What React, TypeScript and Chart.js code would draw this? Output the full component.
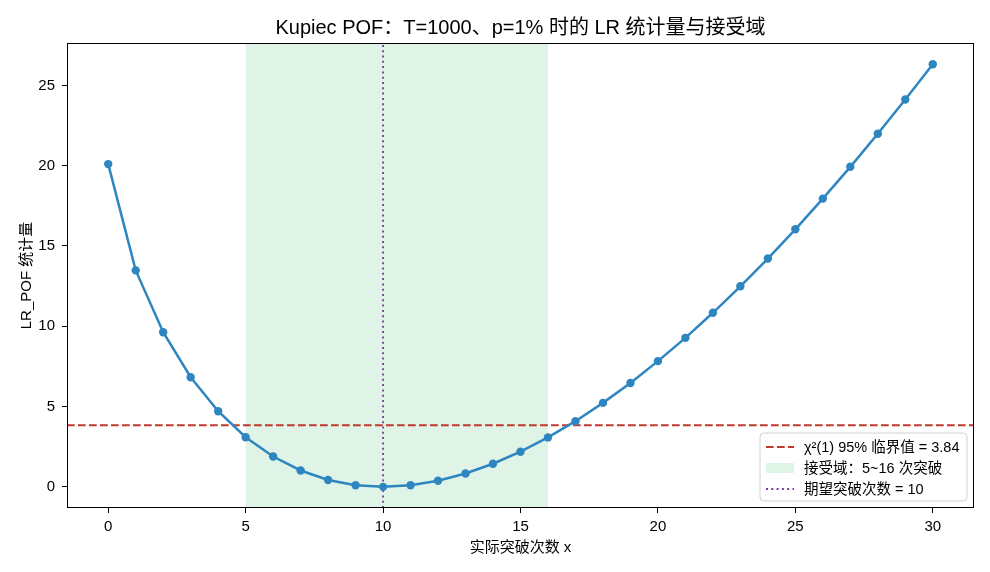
import React, { useEffect, useRef } from "react";
import { Chart, registerables } from "chart.js";

Chart.register(...registerables);

const breachCounts = [0, 1, 2, 3, 4, 5, 6, 7, 8, 9, 10, 11, 12, 13, 14, 15, 16, 17, 18, 19, 20, 21, 22, 23, 24, 25, 26, 27, 28, 29, 30];
const lrValues = [20.10, 13.48, 9.63, 6.83, 4.71, 3.09, 1.89, 1.02, 0.43, 0.10, 0.00, 0.10, 0.38, 0.83, 1.44, 2.19, 3.08, 4.09, 5.23, 6.47, 7.83, 9.28, 10.84, 12.49, 14.22, 16.04, 17.95, 19.93, 21.99, 24.12, 26.32];
const criticalValue = 3.84;
const acceptRange = [5, 16];
const expectedBreaches = 10;
const xTicks = [0, 5, 10, 15, 20, 25, 30];
const yTicks = [0, 5, 10, 15, 20, 25];
const xRange = [-1.5, 31.5];
const yRange = [-1.316, 27.64];

const titleText = "Kupiec POF：T=1000、p=1% 时的 LR 统计量与接受域";
const xLabel = "实际突破次数 x";
const yLabel = "LR_POF 统计量";
const legendLabels = ["χ²(1) 95% 临界值 = 3.84", "接受域：5~16 次突破", "期望突破次数 = 10"];

const FONT = '"Liberation Sans", "Noto Sans CJK SC", sans-serif';
const LINE_COLOR = "#2e86c1";
const RED = "#c0392b";
const PURPLE = "#7d3c98";
const FILL = "rgba(39,174,96,0.15)";

const decorPlugin = {
  id: "decor",
  beforeDatasetsDraw(chart: any) {
    const { ctx, chartArea, scales } = chart;
    const x0 = scales.x.getPixelForValue(acceptRange[0]);
    const x1 = scales.x.getPixelForValue(acceptRange[1]);
    ctx.save();
    ctx.fillStyle = FILL;
    ctx.fillRect(x0, chartArea.top, x1 - x0, chartArea.bottom - chartArea.top);
    ctx.restore();
  },
  afterDraw(chart: any) {
    const { ctx, chartArea } = chart;
    const cx = (chartArea.left + chartArea.right) / 2;
    const cy = (chartArea.top + chartArea.bottom) / 2;
    ctx.save();
    ctx.strokeStyle = "#000";
    ctx.lineWidth = 1;
    ctx.strokeRect(chartArea.left + 0.5, chartArea.top + 0.5, chartArea.right - chartArea.left - 1, chartArea.bottom - chartArea.top - 1);
    ctx.fillStyle = "#000";
    ctx.textAlign = "center";
    ctx.textBaseline = "middle";
    ctx.font = `20px ${FONT}`;
    ctx.fillText(titleText, cx, 28);
    ctx.font = `15px ${FONT}`;
    ctx.fillText(xLabel, cx, 548);
    ctx.save();
    ctx.translate(27, cy);
    ctx.rotate(-Math.PI / 2);
    ctx.fillText(yLabel, 0, 0);
    ctx.restore();
    const lx = 760, ly = 433, lw = 207, lh = 68, r = 4;
    ctx.beginPath();
    ctx.moveTo(lx + r, ly);
    ctx.arcTo(lx + lw, ly, lx + lw, ly + lh, r);
    ctx.arcTo(lx + lw, ly + lh, lx, ly + lh, r);
    ctx.arcTo(lx, ly + lh, lx, ly, r);
    ctx.arcTo(lx, ly, lx + lw, ly, r);
    ctx.closePath();
    ctx.fillStyle = "rgba(255,255,255,0.8)";
    ctx.fill();
    ctx.strokeStyle = "#d0d0d0";
    ctx.lineWidth = 1;
    ctx.stroke();
    const rows = [447, 468, 489];
    const hx0 = 766, hx1 = 794;
    ctx.strokeStyle = RED;
    ctx.lineWidth = 2;
    ctx.setLineDash([7.7, 3.3]);
    ctx.beginPath();
    ctx.moveTo(hx0, rows[0]);
    ctx.lineTo(hx1, rows[0]);
    ctx.stroke();
    ctx.setLineDash([]);
    ctx.fillStyle = FILL;
    ctx.fillRect(hx0, rows[1] - 5, hx1 - hx0, 10);
    ctx.strokeStyle = PURPLE;
    ctx.lineWidth = 1.8;
    ctx.setLineDash([2, 3.3]);
    ctx.beginPath();
    ctx.moveTo(hx0, rows[2]);
    ctx.lineTo(hx1, rows[2]);
    ctx.stroke();
    ctx.setLineDash([]);
    ctx.fillStyle = "#000";
    ctx.textAlign = "left";
    ctx.font = `14.5px ${FONT}`;
    legendLabels.forEach((t, i) => ctx.fillText(t, 804, rows[i] + 1));
    ctx.restore();
  },
};

export default function App() {
  const canvasRef = useRef<HTMLCanvasElement>(null);

  useEffect(() => {
    document.body.style.margin = "0";
    const canvas = canvasRef.current;
    if (!canvas) return;
    const chart = new Chart(canvas, {
      type: "scatter",
      data: {
        datasets: [
          {
            label: "LR",
            data: breachCounts.map((x, i) => ({ x, y: lrValues[i] })),
            showLine: true,
            borderColor: LINE_COLOR,
            backgroundColor: LINE_COLOR,
            borderWidth: 2.5,
            pointRadius: 4.2,
            pointBorderWidth: 0,
            order: 0,
          },
          {
            label: legendLabels[0],
            data: [
              { x: xRange[0], y: criticalValue },
              { x: xRange[1], y: criticalValue },
            ],
            showLine: true,
            borderColor: RED,
            borderWidth: 2,
            borderDash: [7.7, 3.3],
            pointRadius: 0,
            order: 2,
          },
          {
            label: legendLabels[2],
            data: [
              { x: expectedBreaches, y: yRange[0] },
              { x: expectedBreaches, y: yRange[1] },
            ],
            showLine: true,
            borderColor: PURPLE,
            borderWidth: 1.8,
            borderDash: [2, 3.3],
            pointRadius: 0,
            order: 1,
          },
        ],
      },
      options: {
        animation: false,
        responsive: false,
        events: [],
        layout: { padding: { top: 43, right: 16, left: 0, bottom: 0 } },
        plugins: {
          legend: { display: false },
          title: { display: false },
          tooltip: { enabled: false },
        },
        scales: {
          x: {
            type: "linear",
            min: xRange[0],
            max: xRange[1],
            afterBuildTicks: (s: any) => {
              s.ticks = xTicks.map((v) => ({ value: v }));
            },
            afterFit: (s: any) => {
              s.height = 64;
            },
            grid: { drawOnChartArea: false, drawTicks: true, tickLength: 5, tickColor: "#000", tickWidth: 1 },
            border: { display: false },
            ticks: { color: "#000", font: { family: FONT, size: 15 }, padding: 5, maxRotation: 0, autoSkip: false },
          },
          y: {
            type: "linear",
            min: yRange[0],
            max: yRange[1],
            afterBuildTicks: (s: any) => {
              s.ticks = yTicks.map((v) => ({ value: v }));
            },
            afterFit: (s: any) => {
              s.width = 67;
            },
            grid: { drawOnChartArea: false, drawTicks: true, tickLength: 5, tickColor: "#000", tickWidth: 1 },
            border: { display: false },
            ticks: { color: "#000", font: { family: FONT, size: 15 }, padding: 7, autoSkip: false },
          },
        },
      },
      plugins: [decorPlugin],
    });
    return () => chart.destroy();
  }, []);

  return (
    <div style={{ position: "absolute", left: 0, top: 0, width: 990, height: 572 }}>
      <canvas ref={canvasRef} width={990} height={572} style={{ display: "block", width: 990, height: 572 }} />
    </div>
  );
}
